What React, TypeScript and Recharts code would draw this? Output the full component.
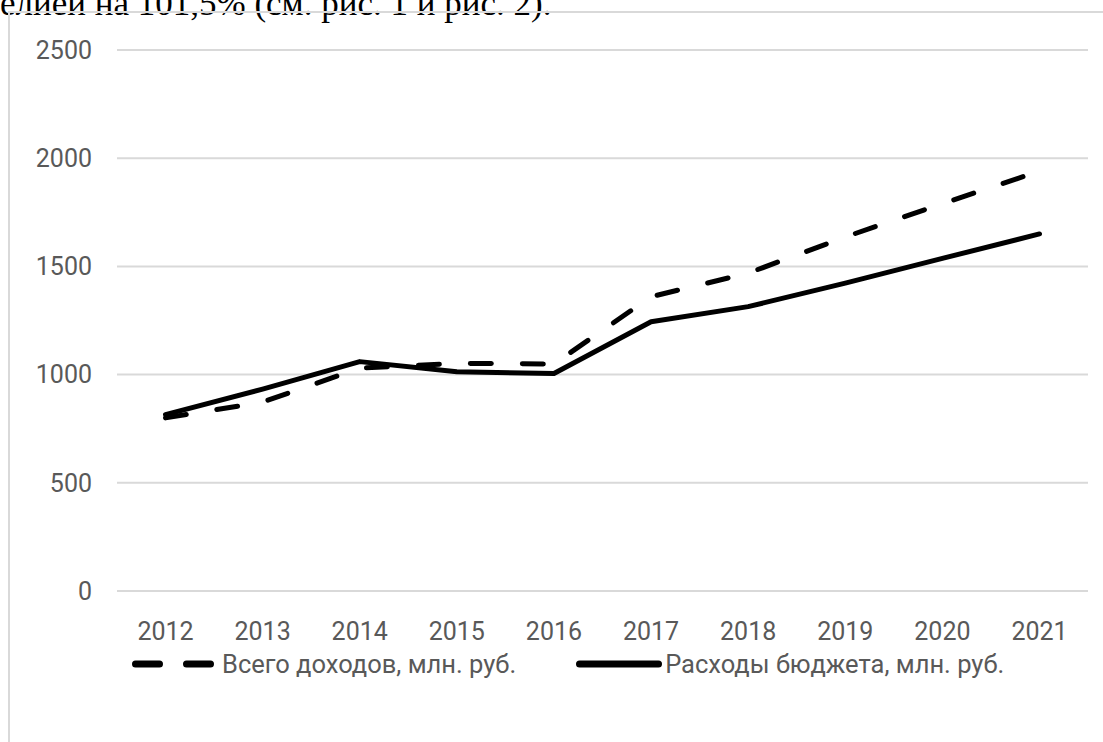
import React from "react";
import { LineChart, Line, XAxis, YAxis, CartesianGrid, Legend } from "recharts";

const years = ["2012", "2013", "2014", "2015", "2016", "2017", "2018", "2019", "2020", "2021"];
const incomeTotal = [800, 873, 1030, 1052, 1049, 1360, 1469, 1636, 1790, 1940];
const budgetExpenses = [815, 933, 1060, 1013, 1005, 1244, 1314, 1423, 1537, 1650];
const yTicks = [0, 500, 1000, 1500, 2000, 2500];
const incomeName = "Всего доходов, млн. руб.";
const expenseName = "Расходы бюджета, млн. руб.";
const headerText = "елией на 101,5% (см. рис. 1 и рис. 2).";

const data = years.map((y, i) => ({ year: y, income: incomeTotal[i], expense: budgetExpenses[i] }));

const FONT = "Roboto, 'Open Sans', sans-serif";

const LegendContent = (props: any) => {
  const payload = props.payload || [];
  return (
    <div style={{ display: "flex", alignItems: "center", paddingLeft: 132, height: 34, fontFamily: FONT, fontSize: 25.5, color: "#595959" }}>
      {payload.map((entry: any, i: number) => {
        const dashed = !!(entry.payload && entry.payload.strokeDasharray);
        return (
          <div key={i} style={{ display: "flex", alignItems: "center", marginLeft: i === 0 ? 0 : 60 }}>
            <svg width={dashed ? 82 : 86} height={12} style={{ marginRight: dashed ? 8 : 3 }}>
              {dashed ? (
                <line x1={3.5} y1={6} x2={78.5} y2={6} stroke="#000" strokeWidth={7} strokeLinecap="round" strokeDasharray="24 27" />
              ) : (
                <line x1={3.5} y1={6} x2={82.5} y2={6} stroke="#000" strokeWidth={7} strokeLinecap="round" />
              )}
            </svg>
            <span style={{ whiteSpace: "nowrap" }}>{entry.value}</span>
          </div>
        );
      })}
    </div>
  );
};

export default function App() {
  return (
    <div style={{ position: "absolute", left: 0, top: 0, width: 1103, height: 742, background: "#fff", overflow: "hidden" }}>
      <div
        style={{
          position: "absolute",
          left: 0,
          top: -14,
          fontFamily: "'Liberation Serif', 'Times New Roman', serif",
          fontSize: 35,
          lineHeight: "36px",
          color: "#000",
          whiteSpace: "nowrap",
        }}
      >
        {headerText}
      </div>
      <div
        style={{
          position: "absolute",
          left: 8,
          top: 11,
          width: 1103,
          height: 742,
          borderLeft: "2px solid #d9d9d9",
          borderTop: "2px solid #d9d9d9",
        }}
      />
      <div style={{ position: "absolute", left: 0, top: 0 }}>
        <LineChart width={1103} height={742} data={data} margin={{ top: 50, right: 15, left: 0, bottom: 77 }}>
          <CartesianGrid horizontal vertical={false} stroke="#d9d9d9" strokeWidth={2} />
          <XAxis
            dataKey="year"
            axisLine={false}
            tickLine={false}
            tickSize={0}
            tickMargin={31}
            height={40}
            padding={{ left: 48.5, right: 48.5 }}
            tick={{ fill: "#595959", fontSize: 25, fontFamily: FONT }}
            interval={0}
          />
          <YAxis
            domain={[0, 2500]}
            ticks={yTicks}
            axisLine={false}
            tickLine={false}
            tickSize={0}
            tickMargin={25}
            width={117}
            tick={{ fill: "#595959", fontSize: 25, fontFamily: FONT }}
            interval={0}
          />
          <Legend
            verticalAlign="bottom"
            height={34}
            content={<LegendContent />}
            wrapperStyle={{ left: 0, width: 1103, top: 647, bottom: "auto" }}
          />
          <Line
            type="linear"
            dataKey="income"
            name={incomeName}
            stroke="#000"
            strokeWidth={5}
            strokeDasharray="21 31"
            strokeLinecap="round"
            dot={false}
            activeDot={false}
            isAnimationActive={false}
          />
          <Line
            type="linear"
            dataKey="expense"
            name={expenseName}
            stroke="#000"
            strokeWidth={5}
            strokeLinecap="round"
            strokeLinejoin="round"
            dot={false}
            activeDot={false}
            isAnimationActive={false}
          />
        </LineChart>
      </div>
    </div>
  );
}
